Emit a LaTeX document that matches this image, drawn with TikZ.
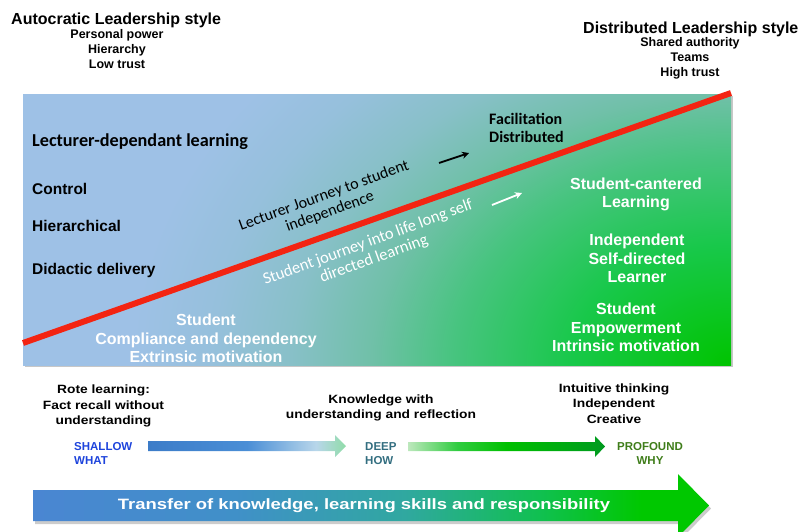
\documentclass[tikz,border=0pt]{standalone}
\usepackage{fontspec}
\setmainfont{Liberation Sans}
\newfontfamily\calibri{Carlito}
\newfontfamily\widefont[FakeStretch=1.15]{Liberation Sans}
\newfontfamily\widerfont[FakeStretch=1.23]{Liberation Sans}
\usetikzlibrary{arrows.meta}

\definecolor{bgblue}{HTML}{9EC1E6}
\definecolor{gA}{HTML}{00C400}
\definecolor{gB}{HTML}{18C84A}
\definecolor{gC}{HTML}{48C480}
\definecolor{gD}{HTML}{70C0A8}
\definecolor{gE}{HTML}{88C0C8}
\definecolor{gF}{HTML}{96C0DC}
\definecolor{redl}{HTML}{F32412}
\definecolor{a1}{HTML}{3C7CC8}
\definecolor{a2}{HTML}{4A8ED6}
\definecolor{a3}{HTML}{B8D6EA}
\definecolor{a4}{HTML}{90DCA8}
\definecolor{b1}{HTML}{BDE8BD}
\definecolor{b2}{HTML}{30CC40}
\definecolor{b3}{HTML}{00C000}
\definecolor{b4}{HTML}{009A20}
\definecolor{c1}{HTML}{4A86D2}
\definecolor{c2}{HTML}{4090C8}
\definecolor{c3}{HTML}{30A8A0}
\definecolor{c4}{HTML}{10C050}
\definecolor{c5}{HTML}{00C800}
\definecolor{shallowc}{HTML}{1E44DC}
\definecolor{deepc}{HTML}{336E80}
\definecolor{profc}{HTML}{3F7D1A}

% path bounding box maps to the inner 50bp of the 100bp shading square
\pgfdeclareradialshading{bgshade}{\pgfpoint{0bp}{0bp}}{color(0bp)=(gA); color(5bp)=(gB); color(8.75bp)=(gC); color(11.25bp)=(gD); color(13.75bp)=(gE); color(16.25bp)=(gF); color(18.75bp)=(bgblue); color(50bp)=(bgblue)}
\pgfdeclarehorizontalshading{arrA}{100bp}{color(0bp)=(a1); color(25bp)=(a1); color(50bp)=(a2); color(67.5bp)=(a3); color(75bp)=(a4); color(100bp)=(a4)}
\pgfdeclarehorizontalshading{arrB}{100bp}{color(0bp)=(b1); color(25bp)=(b1); color(37.5bp)=(b2); color(50bp)=(b3); color(75bp)=(b4); color(100bp)=(b4)}
\pgfdeclarehorizontalshading{arrC}{100bp}{color(0bp)=(c1); color(25bp)=(c1); color(40bp)=(c2); color(52.5bp)=(c3); color(62.5bp)=(c4); color(70bp)=(c5); color(100bp)=(c5)}

\begin{document}
\begin{tikzpicture}[x=1pt,y=-1pt,inner sep=0pt,
  hd/.style={font=\bfseries\fontsize{16}{18}\selectfont, anchor=west},
  sub/.style={font=\bfseries\fontsize{12.5}{15}\selectfont, align=center},
  lbl/.style={font=\bfseries\fontsize{15.5}{18}\selectfont, anchor=west},
  cal/.style={font=\calibri\bfseries\fontsize{16}{18}\selectfont, anchor=west, align=left},
  wlbl/.style={font=\bfseries\fontsize{16}{18.5}\selectfont, align=center, text=white},
  rot/.style={font=\calibri\fontsize{16}{17}\selectfont, align=center, rotate=20},
  btxt/.style={font=\widefont\bfseries\fontsize{12}{15.5}\selectfont, align=center},
  lvl/.style={font=\bfseries\fontsize{11.5}{14}\selectfont},
  redline/.style={draw=redl, line width=6pt},
  jarrow/.style={line width=1.8pt, -{Stealth[length=7pt,width=7pt]}}]
\useasboundingbox (0,0) rectangle (811,531);

% headings
\node[hd] (auto) at (11,20) {Autocratic Leadership style};
\node[sub] (autosub) at (117,49) {Personal power\\Hierarchy\\Low trust};
\node[hd] (dist) at (583,29) {Distributed Leadership style};
\node[sub] (distsub) at (690,58.5) {Shared authority\\Teams\\High trust};

% main panel
\fill[black!22] (25,96) rectangle (733,367);
\begin{scope}
\clip (23,94) rectangle (731,365);
\shade[shading=bgshade] (731,365) ellipse (800pt and 600pt);
\end{scope}

\node[cal, font=\calibri\bfseries\fontsize{18.2}{20}\selectfont] (ldl) at (32,141.5) {Lecturer-dependant learning};
\node[lbl] (ctl) at (32,189) {Control};
\node[lbl] (hier) at (32,226) {Hierarchical};
\node[lbl] (did) at (32,270) {Didactic delivery};
\node[cal] (fac) at (489,128) {Facilitation\\Distributed};

\coordinate (rl1) at (23,343);
\coordinate (rl2) at (731,93);
\draw[redline] (rl1) -- (rl2);

\node[rot] (lj) at (327,204) {Lecturer Journey to student\\independence};
\node[rot, text=white, font=\calibri\fontsize{16.5}{17.5}\selectfont] (sj) at (371,251) {Student journey into life long self\\directed learning};

\coordinate (ba1) at (439,163);
\coordinate (ba2) at (469,153);
\draw[jarrow, black] (ba1) -- (ba2);
\coordinate (wa1) at (492,205);
\coordinate (wa2) at (522,193);
\draw[jarrow, white] (wa1) -- (wa2);

\node[wlbl] (scd) at (206,338.5) {Student\\Compliance and dependency\\Extrinsic motivation};
\node[wlbl] (scl) at (636,194.5) {Student-cantered\\Learning};
\node[wlbl] (ind) at (637,258.5) {Independent\\Self-directed\\Learner};
\node[wlbl] (emp) at (626,327.5) {Student\\Empowerment\\Intrinsic motivation};

% lower part
\node[btxt] (rote) at (103.5,406) {Rote learning:\\Fact recall without\\understanding};
\node[btxt] (know) at (381,408) {Knowledge with\\understanding and reflection};
\node[btxt] (intu) at (614,403.5) {Intuitive thinking\\Independent\\Creative};

\node[lvl, text=shallowc, anchor=west, align=left] (shal) at (74,453.5) {SHALLOW\\WHAT};
\node[lvl, text=deepc, anchor=west, align=left] (deep) at (365,453.5) {DEEP\\HOW};
\node[lvl, text=profc, align=center] (prof) at (650,453.5) {PROFOUND\\WHY};

\shade[shading=arrA] (148,441) -- (335,441) -- (335,435) -- (346,446) -- (335,457) -- (335,451) -- (148,451) -- cycle;
\shade[shading=arrB] (408,442) -- (595,442) -- (595,436) -- (605,446.5) -- (595,457) -- (595,451) -- (408,451) -- cycle;

\fill[black!20] (35,493) -- (680,493) -- (680,477) -- (711,508.5) -- (680,540) -- (680,524) -- (35,524) -- cycle;
\shade[shading=arrC] (33,490) -- (678,490) -- (678,474) -- (709,505.5) -- (678,537) -- (678,521) -- (33,521) -- cycle;
\node[font=\widerfont\bfseries\fontsize{15}{18}\selectfont, text=white] (trans) at (364,506) {Transfer of knowledge, learning skills and responsibility};
\end{tikzpicture}
\end{document}
